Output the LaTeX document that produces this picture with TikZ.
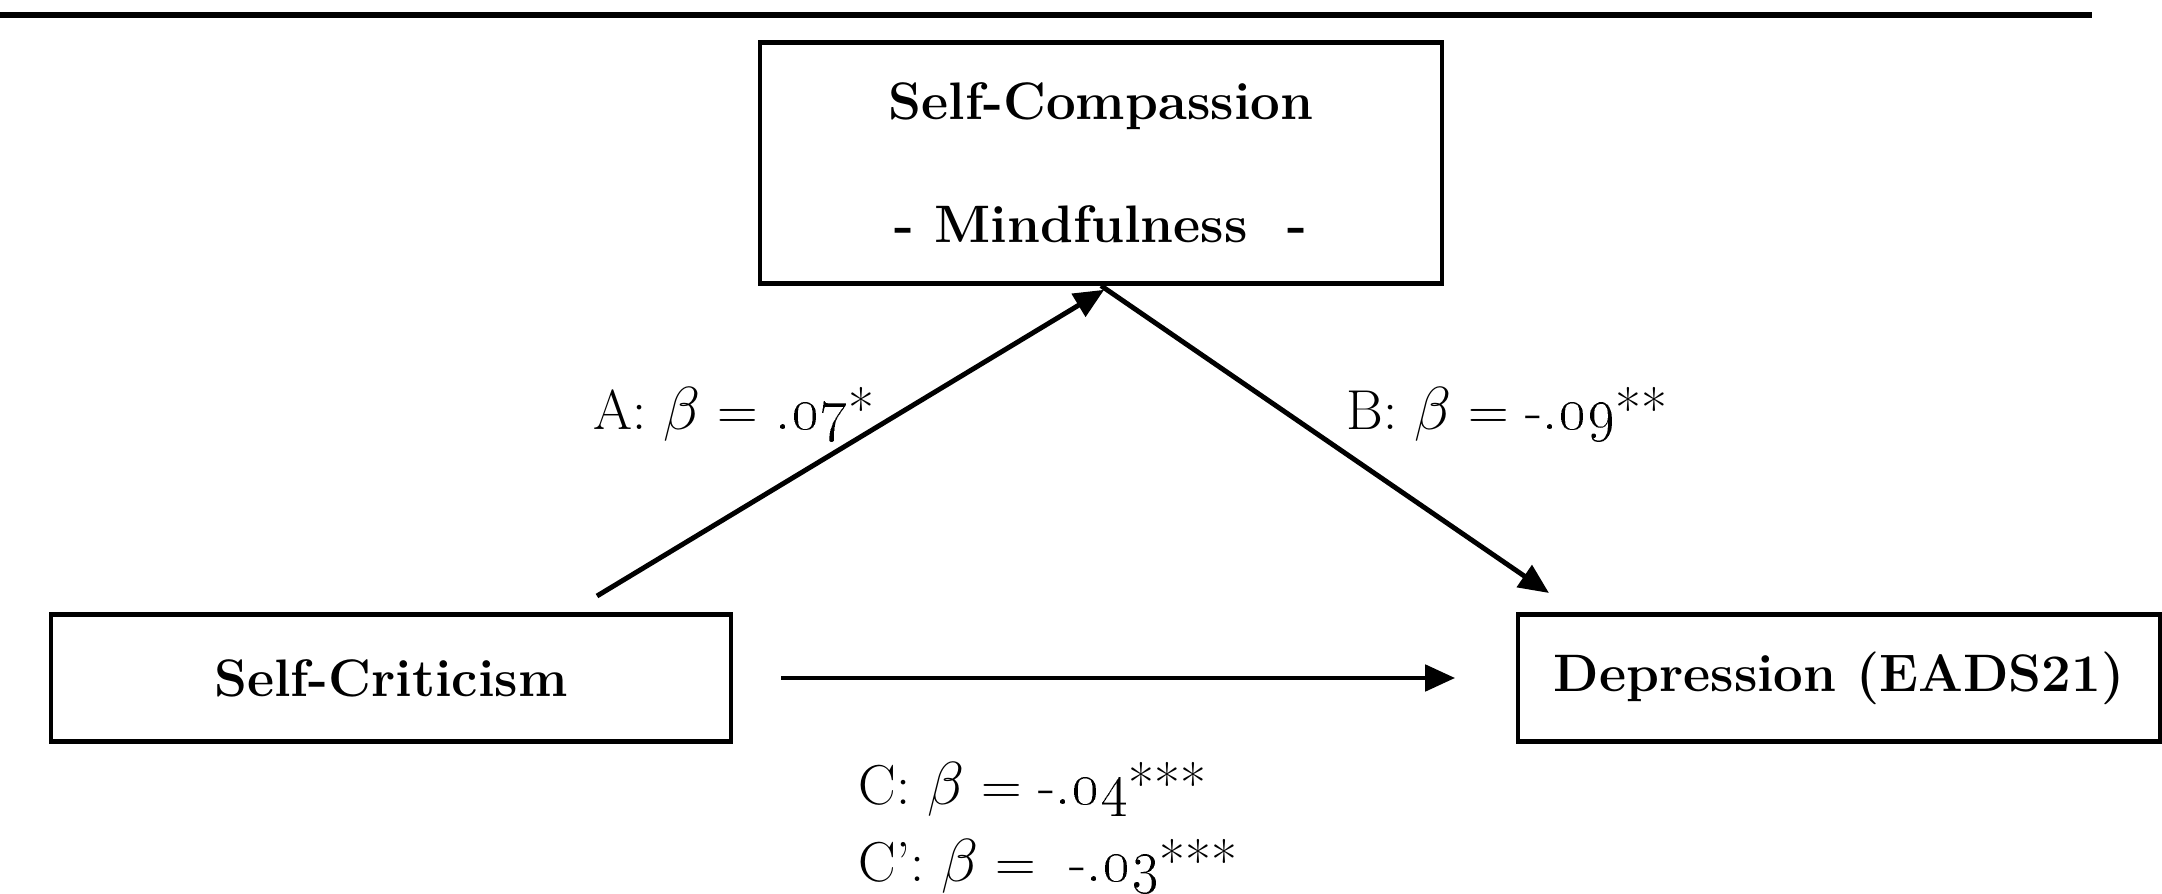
\documentclass[tikz,border=0pt]{standalone}
\usepackage{amsmath,amssymb}
\usetikzlibrary{arrows.meta,positioning}

\begin{document}
\begin{tikzpicture}[x=0.01cm,y=-0.01cm]
\tikzset{
  varbox/.style={rectangle,draw,line width=1.2pt,inner sep=2pt,font=\fontsize{15}{18}\selectfont\bfseries},
  effect/.style={-{Triangle[length=3mm,width=2.6mm]},line width=1.4pt},
  coef/.style={inner sep=0pt,font=\fontsize{16}{19}\selectfont},
  toprule/.style={line width=1.6pt}
}
\useasboundingbox (0,0) rectangle (2162,894);
\draw[toprule] (0,15) -- (2092,15);
\node[varbox,minimum width=6.82cm,minimum height=2.41cm,align=center] (n_med) at (1101,163) {Self-Compassion\\[6mm]- Mindfulness\ \ -};
\node[varbox,minimum width=6.80cm,minimum height=1.27cm] (n_crit) at (391,678) {Self-Criticism};
\node[varbox,minimum width=6.41cm,minimum height=1.27cm] (n_dep) at (1839,678) {Depression (EADS21)};
\coordinate (c_afrom) at (597,596);
\coordinate (c_bto) at (1549,593);
\draw[effect,shorten >=0.8mm] (c_afrom) -- ([xshift=1mm]n_med.south);
\draw[effect] (n_med.south) -- (c_bto);
\draw[effect,shorten <=4.8mm,shorten >=6.1mm] (n_crit.east) -- (n_dep.west);
\node[coef] (l_a) at (734,414) {A: $\beta$ = \oldstylenums{.07}*};
\node[coef] (l_b) at (1507,414) {B: $\beta$ = -\oldstylenums{.09}**};
\node[coef,anchor=west] (l_c) at (858,789) {C: $\beta$ = -\oldstylenums{.04}***};
\node[coef,anchor=west] (l_cp) at (858,866) {C': $\beta$ = \ -\oldstylenums{.03}***};
\end{tikzpicture}
\end{document}
